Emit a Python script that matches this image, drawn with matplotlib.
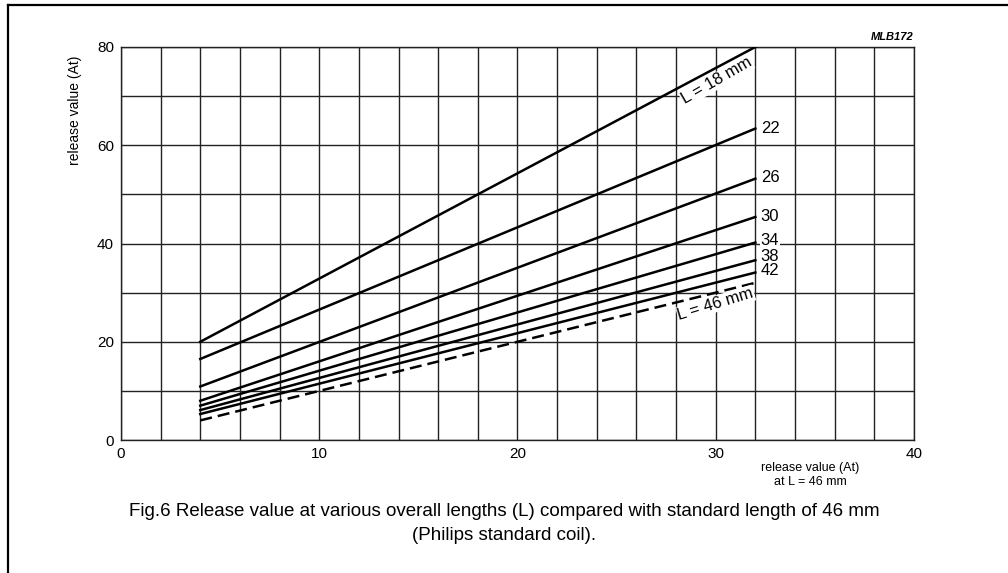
import matplotlib.pyplot as plt
from matplotlib.lines import Line2D

plt.rcParams['font.family'] = ['Liberation Sans', 'DejaVu Sans']

# release value at L = 46 mm (x) -> release value at length L (y)
x_ref = [4, 32]
lengths = ['18', '22', '26', '30', '34', '38', '42', '46']
y_start = [20.0, 16.5, 10.9, 8.0, 7.0, 6.1, 5.3, 4.0]
y_end = [80.0, 63.4, 53.2, 45.4, 40.2, 36.6, 34.1, 32.0]

x_ticks = [0, 10, 20, 30, 40]
y_ticks = [0, 20, 40, 60, 80]

fig = plt.figure(figsize=(10.08, 5.73), dpi=100)
ax = fig.add_axes([0.120, 0.232, 0.7867, 0.686])

ax.set_xlim(0, 40)
ax.set_ylim(0, 80)
ax.set_xticks(x_ticks)
ax.set_yticks(y_ticks)
ax.set_xticks(range(0, 41, 2), minor=True)
ax.set_yticks(range(0, 81, 10), minor=True)
ax.grid(which='both', color='#222222', lw=1.0)
ax.tick_params(which='both', length=0, labelsize=11, pad=5)
for s in ax.spines.values():
    s.set_linewidth(1.0)
    s.set_color('#222222')

for i, L in enumerate(lengths):
    ys = [y_start[i], y_end[i]]
    if L == '46':
        ax.plot(x_ref, ys, color='black', lw=1.8, dashes=(4.8, 2.4), zorder=3)
    else:
        ax.plot(x_ref, ys, color='black', lw=1.8, zorder=3)

# number labels at the right end of the curves
num_y = {'22': 63.5, '26': 53.5, '30': 45.6, '34': 40.7, '38': 37.3, '42': 34.6}
for L, yy in num_y.items():
    ax.text(32.27, yy, L, ha='left', va='center', fontsize=12, zorder=4,
            bbox=dict(facecolor='white', edgecolor='none', pad=0.5))

ax.text(30.05, 73.1, 'L = 18 mm', rotation=30, rotation_mode='anchor',
        ha='center', va='center', fontsize=12, zorder=4,
        bbox=dict(facecolor='white', edgecolor='none', pad=0.5))
ax.text(30.0, 27.7, 'L = 46 mm', rotation=17, rotation_mode='anchor',
        ha='center', va='center', fontsize=12, zorder=4,
        bbox=dict(facecolor='white', edgecolor='none', pad=0.5))

ax.text(1.0, 1.012, 'MLB172', transform=ax.transAxes, ha='right', va='bottom',
        fontsize=8, fontweight='bold', fontstyle='italic')

ax.set_ylabel('release value (At)', fontsize=10)
ax.yaxis.set_label_coords(-0.049, 0.84)
ax.text(0.869, -0.055, 'release value (At)\nat L = 46 mm', transform=ax.transAxes,
        ha='center', va='top', fontsize=9, linespacing=1.3)

fig.text(0.5, 1 - 512 / 573, 'Fig.6 Release value at various overall lengths (L) '
         'compared with standard length of 46 mm', ha='center', va='center', fontsize=13.5)
fig.text(0.5, 1 - 535 / 573, '(Philips standard coil).', ha='center', va='center', fontsize=13.5)

# page frame
fig.add_artist(Line2D([8 / 1008, 1.0], [1 - 5 / 573, 1 - 5 / 573], color='black', lw=1.6))
fig.add_artist(Line2D([8 / 1008, 8 / 1008], [0.0, 1 - 5 / 573], color='black', lw=1.6))

fig.savefig('out.png', dpi=100)
